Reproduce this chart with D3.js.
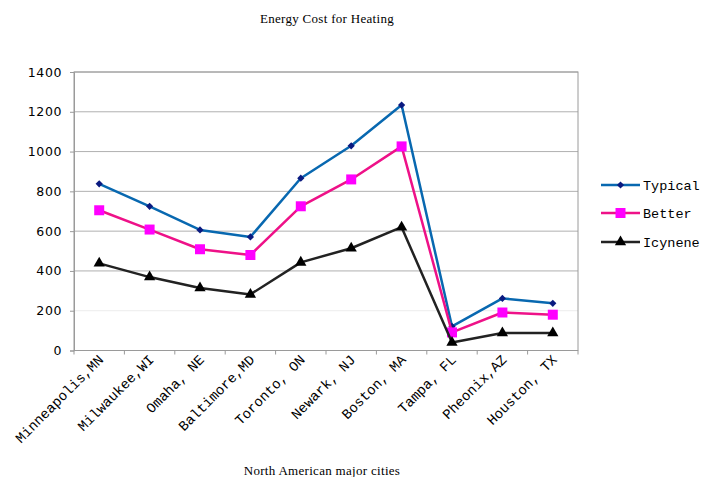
<!DOCTYPE html>
<html>
<head>
<meta charset="utf-8">
<script src="https://cdn.jsdelivr.net/npm/d3@7"></script>
<style>
  html, body { margin: 0; padding: 0; background: #fff; }
  svg { display: block; }
</style>
</head>
<body>
<svg id="chart" width="715" height="477"></svg>
<script>
// Annual heating cost by city for three insulation levels
const cities = ["Minneapolis,MN", "Milwaukee,WI", "Omaha, NE", "Baltimore,MD", "Toronto, ON",
                "Newark, NJ", "Boston, MA", "Tampa, FL", "Pheonix,AZ", "Houston, TX"];
const typical = [838, 725, 606, 571, 866, 1029, 1234, 121, 262, 237];
const better  = [705, 608, 509, 480, 725, 860, 1026, 91, 191, 180];
const icynene = [438, 369, 314, 282, 443, 514, 620, 40, 88, 88];
const yTicks = [0, 200, 400, 600, 800, 1000, 1200, 1400];

const series = [
  { name: "Typical", values: typical, line: "#0868b0", marker: "diamond", fill: "#0a1a80", size: 26 },
  { name: "Better",  values: better,  line: "#ee1188", marker: "square",  fill: "#ff00ff", size: 100 },
  { name: "Icynene", values: icynene, line: "#222222", marker: "triangle", fill: "#000000", size: 55 }
];

const svg = d3.select("#chart");
const plot = { left: 74, right: 578, top: 72, bottom: 350.5 };

const x = d3.scaleBand().domain(cities).range([plot.left, plot.right]);
const y = d3.scaleLinear().domain([0, 1400]).range([plot.bottom, plot.top]);

// gridlines
svg.append("g").selectAll("line").data(yTicks.filter(d => d > 0)).join("line")
  .attr("x1", plot.left).attr("x2", plot.right)
  .attr("y1", d => y(d)).attr("y2", d => y(d))
  .attr("stroke", d => d === 200 ? "#ececec" : "#b0b0b0").attr("stroke-width", 1);

// plot frame
svg.append("rect")
  .attr("x", plot.left).attr("y", plot.top)
  .attr("width", plot.right - plot.left).attr("height", plot.bottom - plot.top)
  .attr("fill", "none").attr("stroke", "#9a9a9a").attr("stroke-width", 1);

// y axis
const yAxis = svg.append("g").attr("transform", `translate(${plot.left},0)`)
  .call(d3.axisLeft(y).tickValues(yTicks).tickSize(4).tickPadding(8).tickFormat(d3.format("d")));
yAxis.select(".domain").attr("stroke", "#9a9a9a");
yAxis.selectAll(".tick line").attr("stroke", "#9a9a9a");
yAxis.selectAll("text").attr("font-family", "'DejaVu Sans', sans-serif")
  .attr("font-size", 12.5).attr("fill", "#000").attr("letter-spacing", "0.6px");

// x axis: tick marks on category boundaries
const xAxis = svg.append("g").attr("transform", `translate(0,${plot.bottom})`);
xAxis.append("line").attr("x1", plot.left).attr("x2", plot.right)
  .attr("stroke", "#9a9a9a");
xAxis.selectAll("line.tk").data(cities.concat([null])).join("line").attr("class", "tk")
  .attr("x1", (d, i) => plot.left + i * x.step()).attr("x2", (d, i) => plot.left + i * x.step())
  .attr("y1", 0).attr("y2", 4).attr("stroke", "#9a9a9a");
xAxis.selectAll("text").data(cities).join("text")
  .attr("transform", d => `translate(${x(d) + x.bandwidth() / 2 + 5},${10}) rotate(-45)`)
  .attr("text-anchor", "end")
  .attr("font-family", "'Liberation Mono', monospace")
  .attr("font-size", 14).attr("fill", "#000")
  .text(d => d);

// series lines and markers (diamond = square turned 45 degrees)
const shapes = { diamond: d3.symbolSquare, square: d3.symbolSquare, triangle: d3.symbolTriangle };
const turn = m => m === "diamond" ? " rotate(45)" : "";
const line = d3.line().x((d, i) => x(cities[i]) + x.bandwidth() / 2).y(d => y(d));

series.forEach(s => {
  svg.append("path").datum(s.values)
    .attr("d", line).attr("fill", "none")
    .attr("stroke", s.line).attr("stroke-width", 2.5).attr("stroke-linejoin", "round");
  svg.append("g").selectAll("path").data(s.values).join("path")
    .attr("transform", (d, i) => `translate(${x(cities[i]) + x.bandwidth() / 2},${y(d)})` + turn(s.marker))
    .attr("d", d3.symbol().type(shapes[s.marker]).size(s.size))
    .attr("fill", s.fill);
});

// legend
const legend = svg.append("g");
const legendY = [185, 213, 242];
series.forEach((s, i) => {
  const g = legend.append("g").attr("transform", `translate(601,${legendY[i]})`);
  g.append("line").attr("x1", 0).attr("x2", 39).attr("stroke", s.line).attr("stroke-width", 2.5);
  g.append("path").attr("transform", "translate(19.5,0)" + turn(s.marker))
    .attr("d", d3.symbol().type(shapes[s.marker]).size(s.size)).attr("fill", s.fill);
  g.append("text").attr("x", 42).attr("y", 5)
    .attr("font-family", "'Liberation Mono', monospace").attr("font-size", 13.5)
    .attr("fill", "#000").text(s.name);
});

// titles
svg.append("text").attr("x", 327).attr("y", 23).attr("text-anchor", "middle")
  .attr("font-family", "'Liberation Serif', serif").attr("font-size", 13)
  .attr("letter-spacing", "0.3px").text("Energy Cost for Heating");
svg.append("text").attr("x", 322).attr("y", 475).attr("text-anchor", "middle")
  .attr("font-family", "'Liberation Serif', serif").attr("font-size", 13)
  .attr("letter-spacing", "0.3px").text("North American major cities");
</script>
</body>
</html>
